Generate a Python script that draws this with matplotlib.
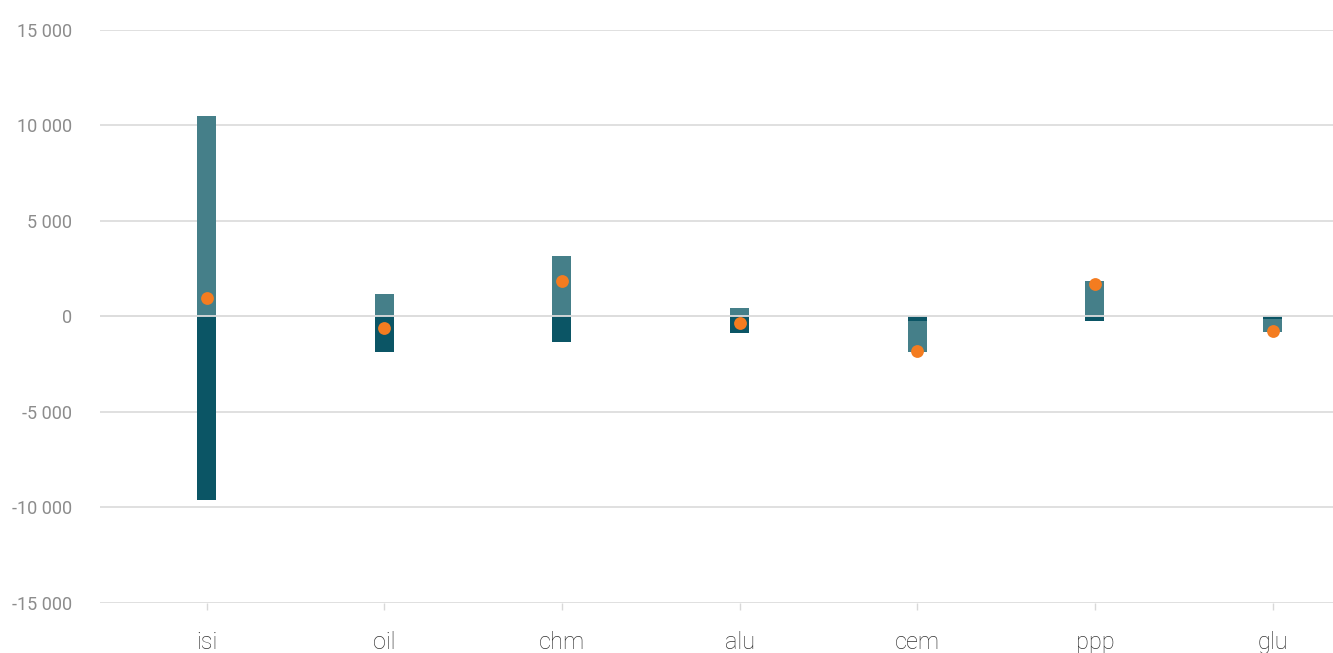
import matplotlib.pyplot as plt
import numpy as np

# data
categories = ['isi', 'oil', 'chm', 'alu', 'cem', 'ppp', 'glu']
light_vals = [10500, 1180, 3170, 430, -1610, 1860, -650]
dark_vals = [-9600, -1840, -1320, -880, -230, -230, -150]
net_vals = [970, -600, 1880, -360, -1810, 1690, -760]
yticks = [-15000, -10000, -5000, 0, 5000, 10000, 15000]

light_col = '#457f89'
dark_col = '#0b5565'
dot_col = '#f47c20'

plt.rcParams['font.family'] = ['Roboto', 'DejaVu Sans']

fig = plt.figure(figsize=(13.33, 6.53), dpi=100)
ax = fig.add_axes([100 / 1333, 1 - 603 / 653, 1 - 100 / 1333, (603 - 30) / 653])

x = np.arange(len(categories))
light = np.array(light_vals)
dark = np.array(dark_vals)
# negative light parts stack below the dark part
light_bottom = np.where(light < 0, dark, 0)

w = 0.107
ax.bar(x, dark, width=w, color=dark_col, zorder=2)
ax.bar(x, light, width=w, bottom=light_bottom, color=light_col, zorder=2)
ax.axhline(0, color='#dddddd', lw=1.3, zorder=3)
ax.scatter(x, net_vals, s=85, color=dot_col, zorder=4, linewidths=0)

ax.set_ylim(-15000, 15000)
ax.set_xlim(-0.6, 6.34)
ax.set_yticks(yticks)
ax.set_yticklabels([f'{v:,}'.replace(',', ' ') for v in yticks])
ax.set_xticks(x)
ax.set_xticklabels(categories)

ax.grid(axis='y', color='#dddddd', lw=1.3, zorder=0)
ax.set_axisbelow(True)
for s in ax.spines.values():
    s.set_visible(False)

ax.tick_params(axis='y', length=0, pad=20, labelsize=13, labelcolor='#8c8c8c')
ax.tick_params(axis='x', length=5, width=1, color='#d8d8d8', pad=15, labelsize=17, labelcolor='#333333')
for lab in ax.get_xticklabels():
    lab.set_fontweight('light')

fig.savefig('out.png', dpi=100, facecolor='white')
